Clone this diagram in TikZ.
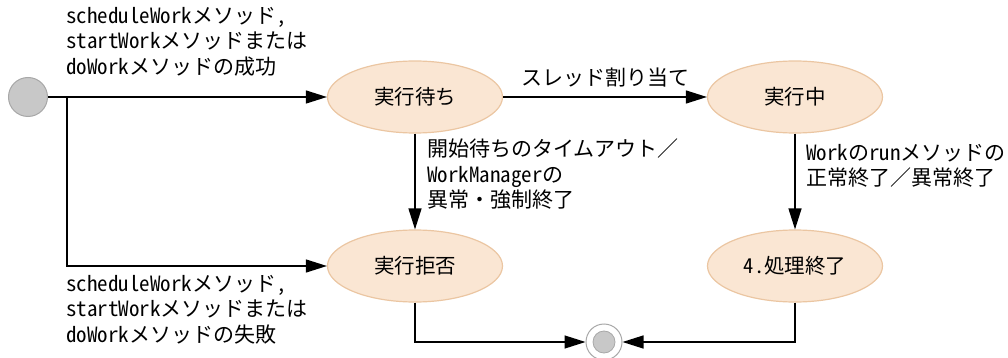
\documentclass[tikz,border=0pt]{standalone}
\usepackage{fontspec}
\setmainfont{Noto Sans CJK JP}
\newfontfamily\jphw[RawFeature=+hwid]{Noto Sans CJK JP}
\newcommand{\hw}[1]{{\jphw #1}}
\usetikzlibrary{shapes.geometric,arrows.meta}
\definecolor{stfill}{HTML}{FAE6D3}
\definecolor{stdraw}{HTML}{EBC6A2}
\definecolor{pgray}{HTML}{C8C8C8}
\definecolor{pgrayd}{HTML}{A8A8A8}
\tikzset{
  state/.style={ellipse, draw=stdraw, fill=stfill, line width=1.2pt, minimum width=175pt, minimum height=72pt, inner sep=0pt, font=\fontsize{20.5}{24}\selectfont},
  conn/.style={line width=1.3pt, -{Triangle[length=21pt,width=13pt]}},
  lbl/.style={align=left, inner sep=0pt, font=\fontsize{21}{25.5}\selectfont},
}
\begin{document}
\begin{tikzpicture}[x=1pt,y=-1pt]
\useasboundingbox (0,0) rectangle (1008,358);
\node[circle, draw=pgrayd, fill=pgray, line width=1pt, minimum size=39pt, inner sep=0pt] (s) at (28,97) {};
\node[state] (w) at (415,97) {実行待ち};
\node[state] (run) at (795,97) {実行中};
\node[state] (r) at (415,266) {実行拒否};
\node[state] (done) at (795,266) {\hw{4.}処理終了};
\node[circle, draw=pgrayd, fill=white, line width=1pt, minimum size=36pt, inner sep=0pt] (e) at (604,342) {};
\node[circle, draw=pgrayd, fill=pgray, line width=0.8pt, minimum size=22pt, inner sep=0pt] (ei) at (604,342) {};
\coordinate (b1) at (67,97);
\coordinate (b2) at (67,266);
\draw[conn] (s) -- (w);
\draw[conn] (b1) -- (b2) -- (r);
\draw[conn] (w) -- (run);
\draw[conn] (w) -- (r);
\draw[conn] (run) -- (done);
\draw[conn] (r.south) |- (e);
\draw[conn] (done.south) |- (e);
\node[lbl, anchor=north west] (l1) at (66,7) {\hw{scheduleWork}メソッド\hw{,}\\\hw{startWork}メソッドまたは\\\hw{doWork}メソッドの成功};
\node[lbl, anchor=south] (l2) at (605,87) {スレッド割り当て};
\node[lbl, anchor=north west] (l3) at (427,139) {開始待ちのタイムアウト／\\\hw{WorkManager}の\\異常・強制終了};
\node[lbl, anchor=north west] (l4) at (806,144) {\hw{Work}の\hw{run}メソッドの\\正常終了／異常終了};
\node[lbl, anchor=north west] (l5) at (66,275) {\hw{scheduleWork}メソッド\hw{,}\\\hw{startWork}メソッドまたは\\\hw{doWork}メソッドの失敗};
\end{tikzpicture}
\end{document}
